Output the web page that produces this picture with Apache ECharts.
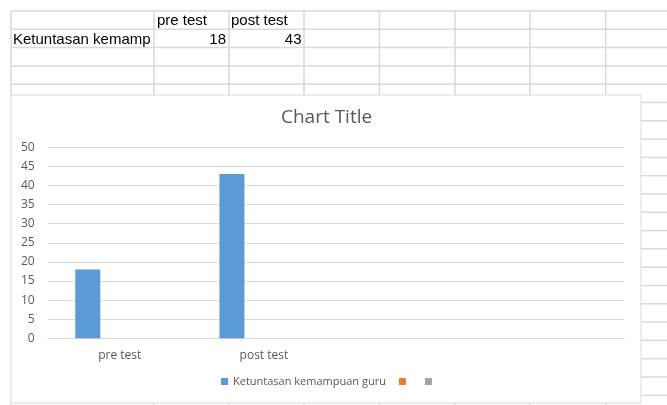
<!DOCTYPE html>
<html>
<head>
<meta charset="utf-8">
<style>
  html, body { margin: 0; padding: 0; background: #fff; }
  #chart { width: 667px; height: 405px; }
</style>
<script src="https://cdn.jsdelivr.net/npm/echarts@6/dist/echarts.min.js"></script>
</head>
<body>
<div id="chart"></div>
<script>
// ---- data ----
var categories = ['pre test', 'post test', '', ''];
var seriesNames = ['Ketuntasan kemampuan guru', 'Series2', 'Series3'];
var ketuntasan = [18, 43, null, null];
var series2 = [null, null, null, null];
var series3 = [null, null, null, null];
var yTicks = { min: 0, max: 50, interval: 5 };

// ---- sheet layout (background cells) ----
var colLines = [11, 154, 229, 304, 379.5, 455, 530, 605.7];
var rowTop = 11, rowH = 18.3;
var box = { x: 11, y: 95, w: 630, h: 308 };
var gridColor = '#d9d9d9';
var textColor = '#595959';
var chartFont = '"Open Sans", sans-serif';

var gfx = [];

// horizontal cell lines
for (var r = 0; r < 22; r++) {
  var y = rowTop + r * rowH;
  if (y < box.y) {
    gfx.push({ type: 'line', shape: { x1: 11, y1: y, x2: 667, y2: y }, style: { stroke: gridColor, lineWidth: 1.5 }, silent: true });
  } else if (y < box.y + box.h) {
    gfx.push({ type: 'line', shape: { x1: box.x + box.w, y1: y, x2: 667, y2: y }, style: { stroke: gridColor, lineWidth: 1.5 }, silent: true });
  }
}
// vertical cell lines (above and below the chart box)
colLines.forEach(function (x) {
  gfx.push({ type: 'line', shape: { x1: x, y1: rowTop, x2: x, y2: box.y }, style: { stroke: gridColor, lineWidth: 1.5 }, silent: true });
  gfx.push({ type: 'line', shape: { x1: x, y1: box.y + box.h, x2: x, y2: 405 }, style: { stroke: gridColor, lineWidth: 1.5 }, silent: true });
});

// cell text
var cellFont = '15px "Liberation Sans", Arial, sans-serif';
function cellText(x, y, text, align, width) {
  var st = { text: text, x: x, y: y, fill: '#000', font: cellFont, textAlign: align, textVerticalAlign: 'middle' };
  if (width) { st.width = width; st.overflow = 'truncate'; st.ellipsis = ''; }
  return { type: 'text', style: st, silent: true };
}
gfx.push(cellText(157, rowTop + rowH / 2 + 1, categories[0], 'left'));
gfx.push(cellText(231, rowTop + rowH / 2 + 1, categories[1], 'left'));
gfx.push(cellText(13, rowTop + rowH * 1.5 + 1, seriesNames[0], 'left', 141));
gfx.push(cellText(226, rowTop + rowH * 1.5 + 1, String(ketuntasan[0]), 'right'));
gfx.push(cellText(301.5, rowTop + rowH * 1.5 + 1, String(ketuntasan[1]), 'right'));

// chart box border
gfx.push({
  type: 'rect', z: -1,
  shape: { x: box.x, y: box.y, width: box.w, height: box.h },
  style: { fill: '#fff', stroke: gridColor, lineWidth: 1 }, silent: true
});

var chart = echarts.init(document.getElementById('chart'));

chart.setOption({
  animation: false,
  backgroundColor: '#fff',
  title: {
    text: 'Chart Title',
    left: 276, top: 103,
    textStyle: { fontFamily: chartFont, fontSize: 19, fontWeight: 'normal', color: textColor }
  },
  legend: {
    // the empty 2nd entry gets a tiny blank label so the 3rd square sits a bit further right
    data: [
      { name: seriesNames[0] },
      { name: seriesNames[1], textStyle: { fontSize: 4 } },
      { name: seriesNames[2] }
    ],
    left: 216, top: 371,
    icon: 'rect', itemWidth: 7, itemHeight: 7, itemGap: 13,
    formatter: function (name) {
      if (name === seriesNames[0]) return name;
      return name === seriesNames[1] ? ' ' : '';
    },
    textStyle: { fontFamily: chartFont, fontSize: 11, color: textColor }
  },
  grid: { left: 47.7, right: 42.7, top: 147.3, bottom: 66.7, containLabel: false },
  xAxis: {
    type: 'category',
    data: categories,
    axisLine: { lineStyle: { color: gridColor } },
    axisTick: { show: false },
    axisLabel: { fontFamily: chartFont, fontSize: 12, color: textColor, margin: 11 }
  },
  yAxis: {
    type: 'value',
    min: yTicks.min, max: yTicks.max, interval: yTicks.interval,
    axisLine: { show: false },
    axisTick: { show: false },
    axisLabel: { fontFamily: chartFont, fontSize: 12, color: textColor, margin: 13 },
    splitLine: { lineStyle: { color: gridColor } }
  },
  series: [
    { name: seriesNames[0], type: 'bar', data: ketuntasan, barWidth: 25, barGap: '28%', itemStyle: { color: '#5b9bd5' } },
    { name: seriesNames[1], type: 'bar', data: series2, barWidth: 25, barGap: '28%', itemStyle: { color: '#ed7d31' } },
    { name: seriesNames[2], type: 'bar', data: series3, barWidth: 25, barGap: '28%', itemStyle: { color: '#a5a5a5' } }
  ],
  graphic: gfx
});

window.addEventListener('resize', function () { chart.resize(); });
</script>
</body>
</html>
